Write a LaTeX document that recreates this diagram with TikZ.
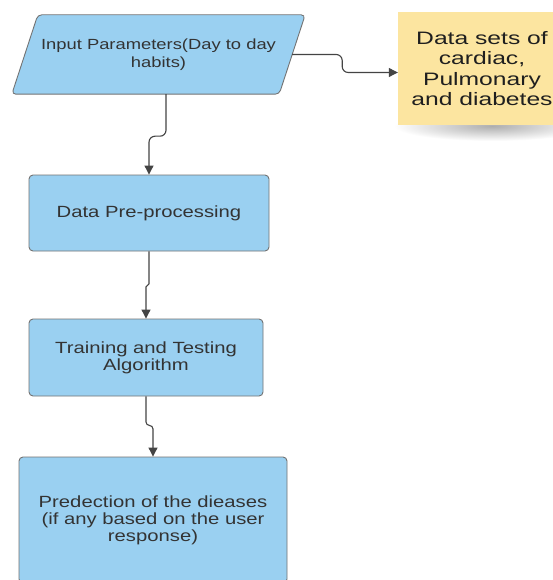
\documentclass[tikz,border=0pt]{standalone}
\usepackage{fontspec}
\setmainfont{Liberation Sans}
\newfontfamily\boxfont[FakeStretch=1.25]{Liberation Sans}
\newfontfamily\notefont[FakeStretch=1.37]{Liberation Sans}
\usetikzlibrary{shapes.geometric,arrows.meta}
\definecolor{boxblue}{RGB}{154,208,241}
\definecolor{boxline}{RGB}{115,115,115}
\definecolor{txt}{RGB}{51,51,51}
\definecolor{stickyc}{RGB}{252,229,160}
\definecolor{wirec}{RGB}{68,68,68}
\begin{document}
\begin{tikzpicture}[x=1pt,y=-1pt,
  flow/.style={draw=boxline, line width=0.9pt, fill=boxblue, rounded corners=4pt},
  boxtext/.style={text=txt, align=center, inner sep=0pt,
    font=\boxfont\fontsize{16.2}{17}\selectfont},
  procbox/.style={flow, boxtext, rectangle},
  wire/.style={draw=wirec, line width=1.1pt, rounded corners=6pt,
    -{Triangle[length=9pt,width=9pt]}}]
\useasboundingbox (0,0) rectangle (553,580);
\clip (0,0) rectangle (553,580);
\fill[white] (0,0) rectangle (553,580);

% input parallelogram
\node[boxtext, rectangle, minimum width=293pt, minimum height=79pt,
  font=\boxfont\fontsize{14.7}{17.6}\selectfont] (inp) at (158.5,54.5)
  {\phantom{X}};
\draw[flow] ([xshift=26pt]inp.north west) -- (inp.north east)
  -- ([xshift=-26pt]inp.south east) -- (inp.south west) -- cycle;
\node[boxtext, font=\boxfont\fontsize{14.7}{17.6}\selectfont] at (inp.center)
  {Input Parameters(Day to day\\habits)};

% sticky note with shadow
\shade[inner color=black!32, outer color=white] (492,126) ellipse [x radius=98pt, y radius=15pt];
\node[fill=stickyc, minimum width=168pt, minimum height=113pt, inner sep=0pt,
  align=center, text=black!88,
  font=\notefont\fontsize{18}{20.3}\selectfont] (data) at (482,68.5)
  {Data sets of\\cardiac,\\Pulmonary\\and diabetes};

% process boxes
\node[procbox, minimum width=240pt, minimum height=76pt] (p1) at (149,213) {Data Pre-processing};
\node[procbox, minimum width=234pt, minimum height=77pt] (p2) at (146,357.5) {Training and Testing\\Algorithm};
\node[procbox, minimum width=268pt, minimum height=126pt] (p3) at (153,520) {Predection of the dieases\\(if any based on the user\\response)};

% connectors
\draw[wire] ([xshift=-13pt]inp.east) -- ++(50,0) |- ([yshift=-4pt]data.west);
\draw[wire] ([xshift=7.5pt]inp.south) -- ++(0,42) -| (p1.north);
\draw[wire, rounded corners=1.5pt] (p1.south) -- ++(0,34) -| (p2.north);
\draw[wire, rounded corners=3.5pt] (p2.south) -- ++(0,29) -| (p3.north);
\end{tikzpicture}
\end{document}
